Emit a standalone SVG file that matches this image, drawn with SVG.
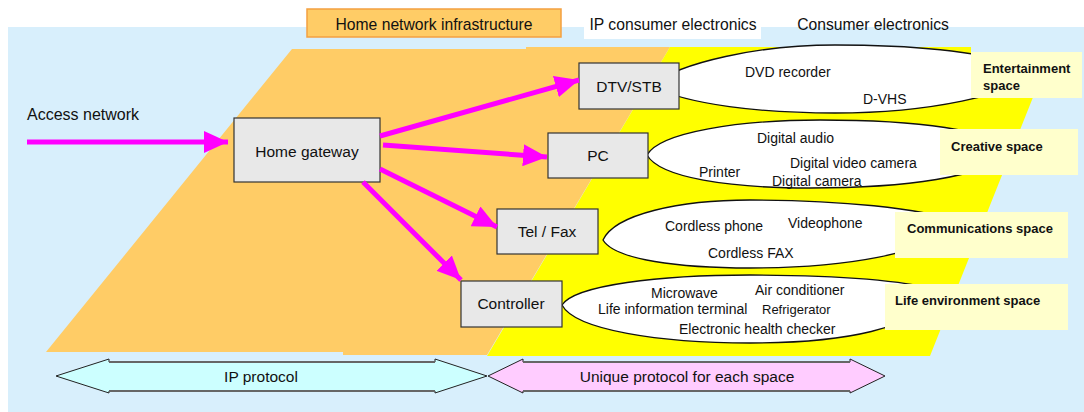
<svg xmlns="http://www.w3.org/2000/svg" width="1084" height="412" viewBox="0 0 1084 412">
  <defs>
    <style>
      text { font-family: "Liberation Sans", Arial, sans-serif; fill: #111; }
      .box { fill: #E8E8E8; stroke: #333; stroke-width: 1.2; }
      .boxText { font-size: 15.5px; text-anchor: middle; }
      .head { font-size: 15.7px; text-anchor: middle; }
      .cloud { fill: #FFFFFF; stroke: #111; stroke-width: 1.3; }
      .item { font-size: 14px; }
      .space { fill: #FFFFCC; }
      .spaceText { font-size: 13px; font-weight: bold; }
      .link { stroke: #FF00FF; stroke-width: 5; fill: none; marker-end: url(#tip); }
      .proto { stroke: #222; stroke-width: 1; }
      .shaftEdge { stroke: #666; stroke-width: 2; }
      .protoText { font-size: 15.5px; text-anchor: middle; }
    </style>
    <marker id="tip" markerUnits="userSpaceOnUse" markerWidth="24" markerHeight="22" refX="24" refY="11" orient="auto">
      <path d="M0,0 L24,11 L0,22 Z" fill="#FF00FF"/>
    </marker>
  </defs>

  <!-- backdrop and zones -->
  <rect x="8" y="27" width="1076" height="385" fill="#D8EFFC"/>
  <polygon points="292,49 526,49 526,47 670,47 487,355 343,355 343,352 46,352" fill="#FFCC66"/>
  <polygon points="670,47 971,47 971,52 1051,52 930,356 487,356" fill="#FFFF00"/>

  <!-- column headings -->
  <g id="heading-infrastructure">
    <rect x="307" y="9" width="254" height="28" fill="#FFCC66" stroke="#F4A040" stroke-width="1.5"/>
    <text class="head" x="434" y="30">Home network infrastructure</text>
  </g>
  <g id="heading-ip-ce">
    <rect x="584" y="8" width="177" height="31" fill="#FFFFFF"/>
    <text class="head" x="673" y="30">IP consumer electronics</text>
  </g>
  <g id="heading-ce">
    <text class="head" x="873" y="30">Consumer electronics</text>
  </g>

  <text x="27" y="120" style="font-size:16px">Access network</text>

  <!-- device clouds -->
  <g id="entertainment-devices">
    <path class="cloud" d="M650,86 C680,62 760,45 835,45 C930,45 1000,55 1040,72 C1010,95 930,113 835,113 C760,113 690,105 650,86 Z"/>
    <text class="item" x="745" y="77">DVD recorder</text>
    <text class="item" x="863" y="104">D-VHS</text>
  </g>
  <g id="creative-devices">
    <path class="cloud" d="M647,155 C660,132 740,120 820,120 C920,120 990,130 1010,150 C990,178 900,188 810,188 C730,188 660,178 647,155 Z"/>
    <text class="item" x="757" y="143">Digital audio</text>
    <text class="item" x="790" y="168">Digital video camera</text>
    <text class="item" x="699" y="177">Printer</text>
    <text class="item" x="772" y="186">Digital camera</text>
  </g>
  <g id="communication-devices">
    <path class="cloud" d="M603,240 C615,214 680,200 750,200 C840,200 920,208 960,222 C930,255 840,268 750,268 C680,268 615,260 603,240 Z"/>
    <text class="item" x="665" y="231">Cordless phone</text>
    <text class="item" x="788" y="228">Videophone</text>
    <text class="item" x="708" y="258">Cordless FAX</text>
  </g>
  <g id="life-devices">
    <path class="cloud" d="M562,305 C575,285 660,275 750,275 C840,275 900,280 940,290 C920,330 840,343 750,343 C660,343 575,330 562,305 Z"/>
    <text class="item" x="651" y="298">Microwave</text>
    <text class="item" x="755" y="295">Air conditioner</text>
    <text class="item" x="598" y="314">Life information terminal</text>
    <text class="item" x="762" y="314" style="font-size:13px">Refrigerator</text>
    <text class="item" x="679" y="334">Electronic health checker</text>
  </g>

  <!-- space labels -->
  <g id="entertainment-space">
    <rect class="space" x="971" y="52" width="111" height="46"/>
    <text class="spaceText" x="983" y="73">Entertainment</text>
    <text class="spaceText" x="983" y="90">space</text>
  </g>
  <g id="creative-space">
    <rect class="space" x="940" y="129" width="138" height="46"/>
    <text class="spaceText" x="951" y="151">Creative space</text>
  </g>
  <g id="communications-space">
    <rect class="space" x="895" y="212" width="173" height="46"/>
    <text class="spaceText" x="907" y="233">Communications space</text>
  </g>
  <g id="life-environment-space">
    <rect class="space" x="885" y="284" width="183" height="46"/>
    <text class="spaceText" x="895" y="305">Life environment space</text>
  </g>

  <!-- equipment boxes -->
  <g id="home-gateway">
    <rect class="box" x="234" y="118" width="146" height="64"/>
    <text class="boxText" x="307" y="157">Home gateway</text>
  </g>
  <g id="dtv-stb">
    <rect class="box" x="579" y="63" width="100" height="46"/>
    <text class="boxText" x="629" y="92">DTV/STB</text>
  </g>
  <g id="pc">
    <rect class="box" x="548" y="133" width="100" height="45"/>
    <text class="boxText" x="598" y="161">PC</text>
  </g>
  <g id="tel-fax">
    <rect class="box" x="497" y="209" width="101" height="45"/>
    <text class="boxText" x="547" y="237">Tel / Fax</text>
  </g>
  <g id="controller">
    <rect class="box" x="461" y="281" width="101" height="46"/>
    <text class="boxText" x="511" y="309">Controller</text>
  </g>

  <!-- links -->
  <g id="connectors">
    <line class="link" x1="27" y1="142" x2="228" y2="142"/>
    <line class="link" x1="380" y1="136" x2="579" y2="80"/>
    <line class="link" x1="383" y1="145" x2="547" y2="157"/>
    <line class="link" x1="380" y1="169" x2="497" y2="227"/>
    <line class="link" x1="363" y1="182" x2="461" y2="280"/>
  </g>

  <!-- protocol spans -->
  <g id="ip-protocol">
    <polygon class="proto" fill="#CCFFFF" points="56,376 109,359 109,362 435,362 435,359 487,376 435,393 435,391 109,391 109,393"/>
    <line class="shaftEdge" x1="109" y1="362" x2="435" y2="362"/>
    <line class="shaftEdge" x1="109" y1="391" x2="435" y2="391"/>
    <text class="protoText" x="261" y="382">IP protocol</text>
  </g>
  <g id="unique-protocol">
    <polygon class="proto" fill="#FFCCFF" points="488,376 523,359 523,362 850,362 850,359 885,376 850,393 850,391 523,391 523,393"/>
    <line class="shaftEdge" x1="523" y1="362" x2="850" y2="362"/>
    <line class="shaftEdge" x1="523" y1="391" x2="850" y2="391"/>
    <text class="protoText" x="687" y="382">Unique protocol for each space</text>
  </g>
</svg>
